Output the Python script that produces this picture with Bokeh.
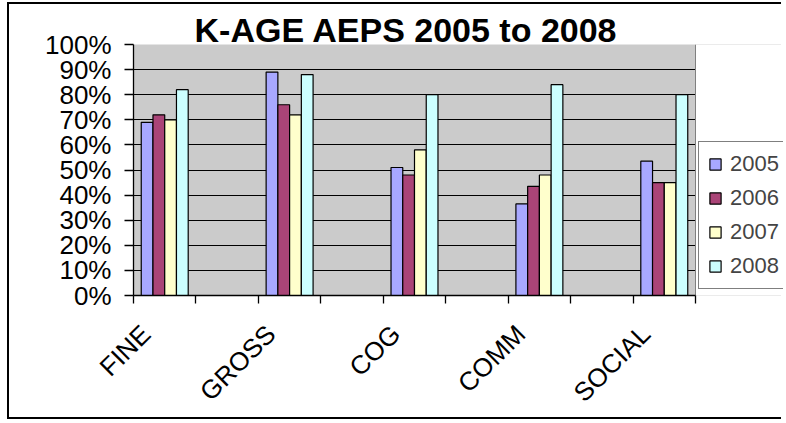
from math import pi
from bokeh.plotting import figure
from bokeh.models import (Range1d, FixedTicker, NumeralTickFormatter, Legend,
                          BoxAnnotation, Grid)
from bokeh.embed import file_html
from bokeh.resources import INLINE

categories = ["FINE", "GROSS", "COG", "COMM", "SOCIAL"]
years = ["2005", "2006", "2007", "2008"]
v2005 = [0.69, 0.89, 0.51, 0.365, 0.535]
v2006 = [0.72, 0.76, 0.48, 0.435, 0.45]
v2007 = [0.70, 0.72, 0.58, 0.48, 0.45]
v2008 = [0.82, 0.88, 0.80, 0.84, 0.80]
y_ticks = [0.0, 0.1, 0.2, 0.3, 0.4, 0.5, 0.6, 0.7, 0.8, 0.9, 1.0]
colors = ["#a8a8ff", "#aa4477", "#ffffcc", "#ccffff"]
title_text = "K-AGE AEPS 2005 to 2008"

series = [v2005, v2006, v2007, v2008]
n_slots = 2 * len(categories) - 1          # empty slot between categories
centers = [2 * i + 0.5 for i in range(len(categories))]
label_pos = [c - 0.3 for c in centers]     # anchor for rotated labels
bar_w = 0.188

FONT = "Liberation Sans"
W, H = 774, 417
LEFT, TOP, BOTTOM = 124, 40, 126
PLOT_W = 562                               # width of the grey plot area
frame_w = W - LEFT
x_end = n_slots * frame_w / PLOT_W         # frame also hosts the legend

p = figure(width=W, height=H,
           x_range=Range1d(0, x_end), y_range=Range1d(0, 1),
           output_backend="svg", toolbar_location=None,
           min_border_left=LEFT, min_border_right=0,
           min_border_top=TOP, min_border_bottom=BOTTOM,
           background_fill_color="#cbcbcb", border_fill_color="white")
p.styles = {"margin-left": "7px", "margin-top": "2px",
            "border-left": "2px solid black", "border-top": "2px solid black",
            "border-bottom": "2px solid black"}
p.outline_line_color = None

# white area right of the plot area (legend zone)
p.add_layout(BoxAnnotation(left=n_slots, fill_color="white", fill_alpha=1,
                           line_color=None, level="underlay"))

items = []
for k, (vals, yr, col) in enumerate(zip(series, years, colors)):
    off = (k - 1.5) * bar_w
    xs = [c + off for c in centers]
    r = p.vbar(x=xs, top=vals, bottom=0, width=bar_w, fill_color=col,
               line_color="black", line_width=1.2)
    items.append((yr, [r]))

# y axis
p.yaxis.ticker = FixedTicker(ticks=y_ticks)
p.yaxis.formatter = NumeralTickFormatter(format="0%")
p.yaxis.major_label_text_font = FONT
p.yaxis.major_label_text_font_size = "26px"
p.yaxis.major_label_text_color = "black"
p.yaxis.major_tick_in = 0
p.yaxis.major_tick_out = 9
p.yaxis.minor_tick_line_color = None
p.yaxis.major_label_standoff = 13
p.yaxis.axis_line_color = "black"
p.yaxis.axis_line_width = 1.3
p.yaxis.major_tick_line_width = 1.3

# x axis
p.xaxis.bounds = (0, n_slots)
p.xaxis.ticker = FixedTicker(ticks=label_pos, minor_ticks=list(range(n_slots + 1)))
p.xaxis.major_label_overrides = {c: name for c, name in zip(label_pos, categories)}
p.xaxis.major_label_orientation = pi / 4
p.xaxis.major_label_text_font = FONT
p.xaxis.major_label_text_font_size = "26px"
p.xaxis.major_label_text_color = "black"
p.xaxis.major_tick_in = 0
p.xaxis.major_tick_out = 0
p.xaxis.minor_tick_in = 0
p.xaxis.minor_tick_out = 8
p.xaxis.minor_tick_line_width = 1.3
p.xaxis.major_label_standoff = 26
p.xaxis.axis_line_color = "black"
p.xaxis.axis_line_width = 1.3

# grid
p.xgrid.grid_line_color = None
p.ygrid.ticker = FixedTicker(ticks=y_ticks[1:-1])
p.ygrid.grid_line_color = "black"
p.ygrid.grid_line_width = 1.2
p.ygrid.cross_bounds = (0, n_slots)
# grey border of the plot area (top and right edges)
p.add_layout(Grid(dimension=1, ticker=FixedTicker(ticks=[y_ticks[-1]]),
                  grid_line_color="#808080", grid_line_width=1,
                  cross_bounds=(0, n_slots)))
p.add_layout(Grid(dimension=0, ticker=FixedTicker(ticks=[n_slots]),
                  grid_line_color="#808080", grid_line_width=1,
                  cross_bounds=(0, 1)))

# title
p.title.text = title_text
p.title.text_font = FONT
p.title.text_font_style = "bold"
p.title.text_font_size = "34px"
p.title.text_color = "black"
p.title.align = "left"
p.title.offset = 61
p.title.standoff = -8
p.title.text_line_height = 1.0

# legend, right of the plot area
lg = Legend(items=items, location=(565, 6))
lg.border_line_color = "black"
lg.border_line_width = 1
lg.background_fill_color = "white"
lg.background_fill_alpha = 1
lg.label_text_font = FONT
lg.label_text_font_size = "22px"
lg.glyph_width = 14
lg.glyph_height = 14
lg.label_standoff = 8
lg.label_height = 26
lg.padding = 9
lg.spacing = 8
lg.margin = 0
p.add_layout(lg)

open("out.html", "w").write(file_html(p, INLINE))
